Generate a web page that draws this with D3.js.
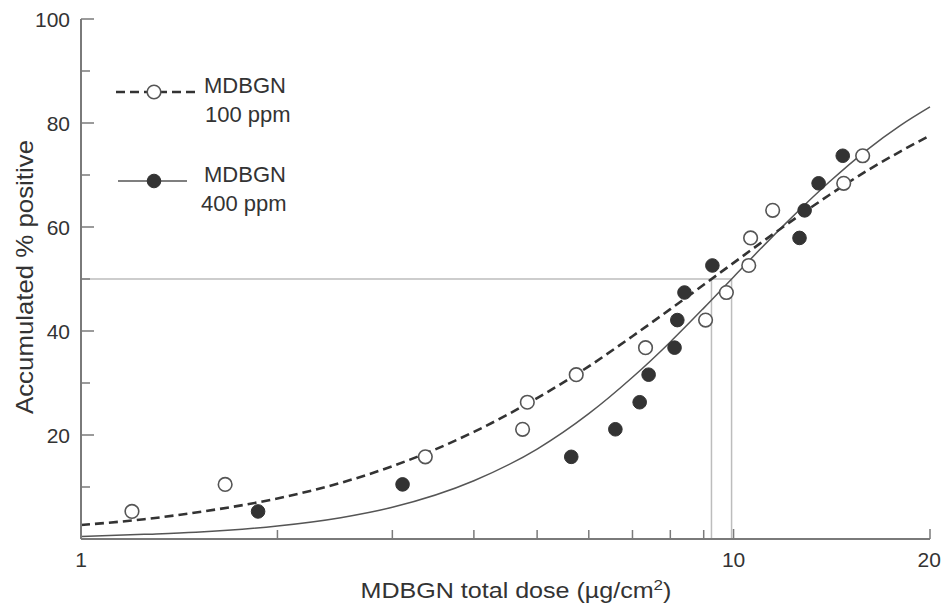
<!DOCTYPE html>
<html>
<head>
<meta charset="utf-8">
<script src="https://cdn.jsdelivr.net/npm/d3@7"></script>
<style>
  html, body { margin: 0; padding: 0; background: #fff; }
  svg { display: block; font-family: "Liberation Sans", Arial, sans-serif; }
</style>
</head>
<body>
<svg id="chart" width="941" height="609"></svg>
<script>
// ---- Data ----
const xTickValues = [1, 2, 3, 4, 5, 6, 7, 8, 9, 10, 20];
const xTickLabels = { 1: "1", 10: "10", 20: "20" };
const yTickValues = [0, 10, 20, 30, 40, 50, 60, 70, 80, 90, 100];
const yTickLabels = { 20: "20", 40: "40", 60: "60", 80: "80", 100: "100" };

// Observed points, MDBGN 100 ppm (open circles)
const dose100 = [1.197, 1.663, 3.37, 4.75, 4.83, 5.74, 7.33, 9.06, 9.75, 10.55, 10.62, 11.48, 14.75, 15.77];
const pct100  = [5.3, 10.5, 15.8, 21.1, 26.3, 31.6, 36.8, 42.1, 47.4, 52.6, 57.9, 63.2, 68.4, 73.7];
// Observed points, MDBGN 400 ppm (filled circles)
const dose400 = [1.868, 3.11, 5.64, 6.59, 7.18, 7.41, 8.12, 8.20, 8.41, 9.28, 12.62, 12.85, 13.50, 14.70];
const pct400  = [5.3, 10.5, 15.8, 21.1, 26.3, 31.6, 36.8, 42.1, 47.4, 52.6, 57.9, 63.2, 68.4, 73.7];

// Fitted curves
const fitDose    = [1, 1.25, 1.5, 2, 2.5, 3, 4, 5, 6, 7, 8, 9, 10, 11, 12, 14, 16, 18, 20];
const fitPct100  = [2.7, 3.8, 5.1, 7.8, 10.8, 14.0, 20.6, 27.1, 33.2, 39.0, 44.2, 48.9, 53.1, 56.9, 60.3, 66.1, 70.8, 74.5, 77.6];
const fitPct400  = [0.5, 0.9, 1.3, 2.5, 4.1, 6.1, 11.2, 17.3, 24.1, 31.1, 37.9, 44.4, 50.4, 55.8, 60.6, 68.6, 74.8, 79.5, 83.1];

// 50% reference
const refLevel = 50;
const ed50Doses = [9.25, 9.93];

const legendItems = [
  { name: "MDBGN", sub: "100 ppm", open: true },
  { name: "MDBGN", sub: "400 ppm", open: false }
];

// ---- Layout ----
const svg = d3.select("#chart");
const x = d3.scaleLog().domain([1, 20]).range([81, 930]);
const y = d3.scaleLinear().domain([0, 100]).range([539, 19]);

const axisColor = "#7a7a7a";
const textColor = "#333";

// Reference lines
const refG = svg.append("g").attr("stroke", "#bdbdbd").attr("stroke-width", 1.5).attr("fill", "none");
refG.append("line")
  .attr("x1", x(1)).attr("x2", x(d3.max(ed50Doses)))
  .attr("y1", y(refLevel)).attr("y2", y(refLevel));
ed50Doses.forEach(d => {
  refG.append("line")
    .attr("x1", x(d)).attr("x2", x(d))
    .attr("y1", y(refLevel)).attr("y2", y(0));
});

// Curves
const line = d3.line().x(d => x(d[0])).y(d => y(d[1])).curve(d3.curveMonotoneX);
svg.append("path")
  .datum(fitDose.map((d, i) => [d, fitPct400[i]]))
  .attr("d", line).attr("fill", "none")
  .attr("stroke", "#555").attr("stroke-width", 1.5);
svg.append("path")
  .datum(fitDose.map((d, i) => [d, fitPct100[i]]))
  .attr("d", line).attr("fill", "none")
  .attr("stroke", "#333").attr("stroke-width", 2.6)
  .attr("stroke-dasharray", "9,5");

// Points
const r = 6.8;
svg.append("g").selectAll("circle")
  .data(dose100.map((d, i) => [d, pct100[i]]))
  .join("circle")
  .attr("cx", d => x(d[0])).attr("cy", d => y(d[1])).attr("r", r)
  .attr("fill", "#fff").attr("stroke", "#555").attr("stroke-width", 1.6);
svg.append("g").selectAll("circle")
  .data(dose400.map((d, i) => [d, pct400[i]]))
  .join("circle")
  .attr("cx", d => x(d[0])).attr("cy", d => y(d[1])).attr("r", r)
  .attr("fill", "#333").attr("stroke", "#333").attr("stroke-width", 1);

// Axes
const xAxis = svg.append("g");
xAxis.append("line")
  .attr("x1", x(1)).attr("x2", x(20)).attr("y1", y(0)).attr("y2", y(0))
  .attr("stroke", axisColor).attr("stroke-width", 2);
xAxis.selectAll("line.tick").data(xTickValues).join("line").attr("class", "tick")
  .attr("x1", d => x(d)).attr("x2", d => x(d))
  .attr("y1", y(0)).attr("y2", d => y(0) - (xTickLabels[d] ? 10 : 9))
  .attr("stroke", axisColor).attr("stroke-width", 1.5);
xAxis.selectAll("text").data(xTickValues.filter(d => xTickLabels[d])).join("text")
  .attr("x", d => d === 20 ? 917.5 : x(d))
  .attr("y", 567)
  .attr("text-anchor", d => d === 20 ? "start" : "middle")
  .attr("font-size", 21).attr("fill", textColor)
  .text(d => xTickLabels[d]);

const yAxis = svg.append("g");
yAxis.append("line")
  .attr("x1", x(1)).attr("x2", x(1)).attr("y1", y(100)).attr("y2", y(0))
  .attr("stroke", axisColor).attr("stroke-width", 2);
yAxis.selectAll("line.tick").data(yTickValues.filter(d => d > 0)).join("line").attr("class", "tick")
  .attr("x1", x(1)).attr("x2", d => x(1) + (yTickLabels[d] ? 13 : 9))
  .attr("y1", d => y(d)).attr("y2", d => y(d))
  .attr("stroke", axisColor).attr("stroke-width", 1.5);
yAxis.selectAll("text").data(yTickValues.filter(d => yTickLabels[d])).join("text")
  .attr("x", 70).attr("y", d => y(d) + 7.5)
  .attr("text-anchor", "end").attr("font-size", 21).attr("fill", textColor)
  .text(d => yTickLabels[d]);

// Axis titles
const xTitleG = svg.append("g").attr("transform", "translate(516,598) scale(1.14,1)");
const xTitle = xTitleG.append("text")
  .attr("x", 0).attr("y", 0).attr("text-anchor", "middle")
  .attr("font-size", 22).attr("fill", textColor);
xTitle.append("tspan").text("MDBGN total dose (µg/cm");
xTitle.append("tspan").attr("font-size", 15).attr("dy", -8).text("2");
xTitle.append("tspan").attr("dy", 8).text(")");

svg.append("text")
  .attr("transform", "translate(33,277) rotate(-90)")
  .attr("text-anchor", "middle").attr("font-size", 24).attr("fill", textColor)
  .attr("textLength", 274).attr("lengthAdjust", "spacingAndGlyphs")
  .text("Accumulated % positive");

// Legend
const legY = [92, 181];
legendItems.forEach((item, i) => {
  const g = svg.append("g");
  const ly = legY[i];
  if (item.open) {
    g.append("line").attr("x1", 116).attr("x2", 197).attr("y1", ly).attr("y2", ly)
      .attr("stroke", "#333").attr("stroke-width", 2.6).attr("stroke-dasharray", "9,5");
    g.append("circle").attr("cx", 154).attr("cy", ly).attr("r", r)
      .attr("fill", "#fff").attr("stroke", "#555").attr("stroke-width", 1.6);
  } else {
    g.append("line").attr("x1", 118).attr("x2", 187).attr("y1", ly).attr("y2", ly)
      .attr("stroke", "#555").attr("stroke-width", 1.5);
    g.append("circle").attr("cx", 154).attr("cy", ly).attr("r", r)
      .attr("fill", "#333").attr("stroke", "#333");
  }
  g.append("text").attr("x", 204).attr("y", ly + 1).attr("font-size", 22).attr("fill", textColor).text(item.name);
  g.append("text").attr("x", i === 0 ? 205 : 201).attr("y", ly + 30).attr("font-size", 22).attr("fill", textColor).text(item.sub);
});
</script>
</body>
</html>
